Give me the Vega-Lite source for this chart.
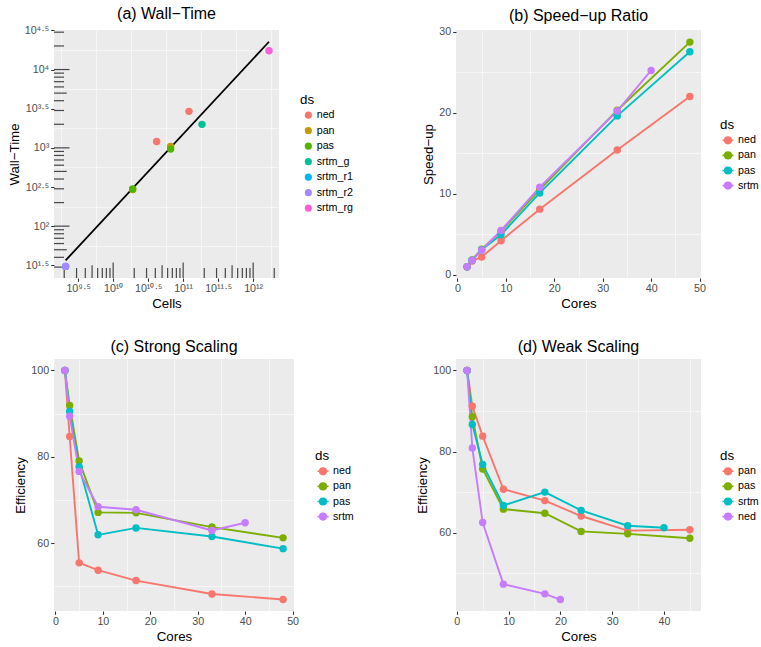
{
  "$schema": "https://vega.github.io/schema/vega-lite/v6.json",
  "background": "white",
  "padding": {"left": 7, "top": 6, "right": 0, "bottom": 0},
  "columns": 2,
  "align": "each",
  "bounds": "flush",
  "spacing": {"row": 81, "column": 162},
  "datasets": {
    "wall": [
      {"ds": "ned", "cells": 41780000000, "time": 1208},
      {"ds": "ned", "cells": 121100000000, "time": 2924},
      {"ds": "pan", "cells": 19010000000, "time": 294.4},
      {"ds": "pan", "cells": 66220000000, "time": 1042},
      {"ds": "pas", "cells": 19010000000, "time": 298.5},
      {"ds": "pas", "cells": 66220000000, "time": 963.8},
      {"ds": "srtm_g", "cells": 185800000000, "time": 1995},
      {"ds": "srtm_r1", "cells": 2094000000, "time": 30.62},
      {"ds": "srtm_r2", "cells": 2094000000, "time": 30.62},
      {"ds": "srtm_rg", "cells": 1683000000000, "time": 17418}
    ],
    "fit": [
      {"cells": 2094000000, "time": 36.56},
      {"cells": 1683000000000, "time": 22646}
    ],
    "logy": [
      {"time": 30, "kind": "short"}, {"time": 40, "kind": "short"}, {"time": 50, "kind": "mid"}, {"time": 60, "kind": "short"}, {"time": 70, "kind": "short"}, {"time": 80, "kind": "short"}, {"time": 90, "kind": "short"},
      {"time": 100, "kind": "long"}, {"time": 200, "kind": "short"}, {"time": 300, "kind": "short"}, {"time": 400, "kind": "short"}, {"time": 500, "kind": "mid"}, {"time": 600, "kind": "short"}, {"time": 700, "kind": "short"}, {"time": 800, "kind": "short"}, {"time": 900, "kind": "short"},
      {"time": 1000, "kind": "long"}, {"time": 2000, "kind": "short"}, {"time": 3000, "kind": "short"}, {"time": 4000, "kind": "short"}, {"time": 5000, "kind": "mid"}, {"time": 6000, "kind": "short"}, {"time": 7000, "kind": "short"}, {"time": 8000, "kind": "short"}, {"time": 9000, "kind": "short"},
      {"time": 10000, "kind": "long"}, {"time": 20000, "kind": "short"}, {"time": 30000, "kind": "short"}
    ],
    "logx": [
      {"cells": 2000000000, "kind": "short"}, {"cells": 3000000000, "kind": "short"}, {"cells": 4000000000, "kind": "short"}, {"cells": 5000000000, "kind": "mid"}, {"cells": 6000000000, "kind": "short"}, {"cells": 7000000000, "kind": "short"}, {"cells": 8000000000, "kind": "short"}, {"cells": 9000000000, "kind": "short"},
      {"cells": 10000000000, "kind": "long"}, {"cells": 20000000000, "kind": "short"}, {"cells": 30000000000, "kind": "short"}, {"cells": 40000000000, "kind": "short"}, {"cells": 50000000000, "kind": "mid"}, {"cells": 60000000000, "kind": "short"}, {"cells": 70000000000, "kind": "short"}, {"cells": 80000000000, "kind": "short"}, {"cells": 90000000000, "kind": "short"},
      {"cells": 100000000000, "kind": "long"}, {"cells": 200000000000, "kind": "short"}, {"cells": 300000000000, "kind": "short"}, {"cells": 400000000000, "kind": "short"}, {"cells": 500000000000, "kind": "mid"}, {"cells": 600000000000, "kind": "short"}, {"cells": 700000000000, "kind": "short"}, {"cells": 800000000000, "kind": "short"}, {"cells": 900000000000, "kind": "short"},
      {"cells": 1000000000000, "kind": "long"}, {"cells": 2000000000000, "kind": "short"}
    ],
    "speed": [
      {"ds": "ned", "cores": 2, "speedup": 1}, {"ds": "ned", "cores": 3, "speedup": 1.69}, {"ds": "ned", "cores": 5, "speedup": 2.2}, {"ds": "ned", "cores": 9, "speedup": 4.2}, {"ds": "ned", "cores": 17, "speedup": 8.1}, {"ds": "ned", "cores": 33, "speedup": 15.4}, {"ds": "ned", "cores": 48, "speedup": 22.0},
      {"ds": "pan", "cores": 2, "speedup": 1}, {"ds": "pan", "cores": 3, "speedup": 1.84}, {"ds": "pan", "cores": 5, "speedup": 3.16}, {"ds": "pan", "cores": 9, "speedup": 5.36}, {"ds": "pan", "cores": 17, "speedup": 10.5}, {"ds": "pan", "cores": 33, "speedup": 20.3}, {"ds": "pan", "cores": 48, "speedup": 28.7},
      {"ds": "pas", "cores": 2, "speedup": 1}, {"ds": "pas", "cores": 3, "speedup": 1.81}, {"ds": "pas", "cores": 5, "speedup": 3.1}, {"ds": "pas", "cores": 9, "speedup": 4.95}, {"ds": "pas", "cores": 17, "speedup": 10.1}, {"ds": "pas", "cores": 33, "speedup": 19.6}, {"ds": "pas", "cores": 48, "speedup": 27.5},
      {"ds": "srtm", "cores": 2, "speedup": 1}, {"ds": "srtm", "cores": 3, "speedup": 1.79}, {"ds": "srtm", "cores": 5, "speedup": 3.06}, {"ds": "srtm", "cores": 9, "speedup": 5.47}, {"ds": "srtm", "cores": 17, "speedup": 10.8}, {"ds": "srtm", "cores": 33, "speedup": 20.2}, {"ds": "srtm", "cores": 40, "speedup": 25.2}
    ],
    "strong": [
      {"ds": "ned", "cores": 2, "eff": 100}, {"ds": "ned", "cores": 3, "eff": 84.7}, {"ds": "ned", "cores": 5, "eff": 55.4}, {"ds": "ned", "cores": 9, "eff": 53.7}, {"ds": "ned", "cores": 17, "eff": 51.3}, {"ds": "ned", "cores": 33, "eff": 48.2}, {"ds": "ned", "cores": 48, "eff": 46.9},
      {"ds": "pan", "cores": 2, "eff": 100}, {"ds": "pan", "cores": 3, "eff": 91.9}, {"ds": "pan", "cores": 5, "eff": 79.0}, {"ds": "pan", "cores": 9, "eff": 67.1}, {"ds": "pan", "cores": 17, "eff": 67.0}, {"ds": "pan", "cores": 33, "eff": 63.7}, {"ds": "pan", "cores": 48, "eff": 61.2},
      {"ds": "pas", "cores": 2, "eff": 100}, {"ds": "pas", "cores": 3, "eff": 90.5}, {"ds": "pas", "cores": 5, "eff": 77.7}, {"ds": "pas", "cores": 9, "eff": 61.9}, {"ds": "pas", "cores": 17, "eff": 63.5}, {"ds": "pas", "cores": 33, "eff": 61.5}, {"ds": "pas", "cores": 48, "eff": 58.7},
      {"ds": "srtm", "cores": 2, "eff": 100}, {"ds": "srtm", "cores": 3, "eff": 89.4}, {"ds": "srtm", "cores": 5, "eff": 76.6}, {"ds": "srtm", "cores": 9, "eff": 68.4}, {"ds": "srtm", "cores": 17, "eff": 67.7}, {"ds": "srtm", "cores": 33, "eff": 62.9}, {"ds": "srtm", "cores": 40, "eff": 64.7}
    ],
    "weak": [
      {"ds": "pan", "cores": 2, "eff": 100}, {"ds": "pan", "cores": 3, "eff": 91.2}, {"ds": "pan", "cores": 5, "eff": 83.8}, {"ds": "pan", "cores": 9, "eff": 70.7}, {"ds": "pan", "cores": 17, "eff": 67.9}, {"ds": "pan", "cores": 24, "eff": 64.1}, {"ds": "pan", "cores": 33, "eff": 60.5}, {"ds": "pan", "cores": 45, "eff": 60.7},
      {"ds": "pas", "cores": 2, "eff": 100}, {"ds": "pas", "cores": 3, "eff": 88.6}, {"ds": "pas", "cores": 5, "eff": 75.7}, {"ds": "pas", "cores": 9, "eff": 65.8}, {"ds": "pas", "cores": 17, "eff": 64.8}, {"ds": "pas", "cores": 24, "eff": 60.3}, {"ds": "pas", "cores": 33, "eff": 59.7}, {"ds": "pas", "cores": 45, "eff": 58.6},
      {"ds": "srtm", "cores": 2, "eff": 100}, {"ds": "srtm", "cores": 3, "eff": 86.7}, {"ds": "srtm", "cores": 5, "eff": 76.8}, {"ds": "srtm", "cores": 9, "eff": 66.7}, {"ds": "srtm", "cores": 17, "eff": 70.0}, {"ds": "srtm", "cores": 24, "eff": 65.5}, {"ds": "srtm", "cores": 33, "eff": 61.7}, {"ds": "srtm", "cores": 40, "eff": 61.2},
      {"ds": "ned", "cores": 2, "eff": 100}, {"ds": "ned", "cores": 3, "eff": 80.9}, {"ds": "ned", "cores": 5, "eff": 62.5}, {"ds": "ned", "cores": 9, "eff": 47.3}, {"ds": "ned", "cores": 17, "eff": 44.9}, {"ds": "ned", "cores": 20, "eff": 43.5}
    ]
  },
  "concat": [
    {
      "width": 225,
      "height": 248,
      "title": {"text": "(a) Wall−Time", "offset": 2},
      "layer": [
        {
          "data": {"name": "logy"},
          "mark": {"type": "tick", "orient": "horizontal", "color": "black", "thickness": 1.2, "clip": true},
          "encoding": {
            "x": {"datum": 1428900000, "type": "quantitative", "scale": {"type": "log", "domain": [1428900000, 2338800000000], "nice": false, "zero": false},
              "axis": {"orient": "top", "values": [1778300000, 5623400000, 17783000000, 56234000000, 177830000000, 562340000000, 1778300000000], "labels": false, "ticks": false, "title": null, "grid": true, "gridWidth": 0.55}},
            "y": {"field": "time", "type": "quantitative", "scale": {"type": "log", "domain": [21.777, 31989], "nice": false, "zero": false},
              "axis": {"orient": "right", "values": [56.234, 177.83, 562.34, 1778.3, 5623.4, 17783], "labels": false, "ticks": false, "title": null, "grid": true, "gridWidth": 0.55}},
            "size": {"field": "kind", "type": "nominal", "scale": {"domain": ["long", "mid", "short"], "range": [31, 20, 10]}, "legend": null}
          }
        },
        {
          "data": {"name": "logx"},
          "mark": {"type": "tick", "orient": "vertical", "color": "black", "thickness": 1.2, "clip": true},
          "encoding": {
            "x": {"field": "cells", "type": "quantitative",
              "axis": {"orient": "bottom", "title": "Cells", "values": [3162277660, 10000000000, 31622776602, 100000000000, 316227766017, 1000000000000],
                "labelExpr": "datum.value < 5e9 ? '10⁹·⁵' : datum.value < 2e10 ? '10¹⁰' : datum.value < 5e10 ? '10¹⁰·⁵' : datum.value < 2e11 ? '10¹¹' : datum.value < 5e11 ? '10¹¹·⁵' : '10¹²'"}},
            "y": {"datum": 21.777, "type": "quantitative",
              "axis": {"orient": "left", "title": "Wall−Time", "values": [31.623, 100, 316.23, 1000, 3162.3, 10000, 31623],
                "labelExpr": "datum.value < 50 ? '10¹·⁵' : datum.value < 200 ? '10²' : datum.value < 500 ? '10²·⁵' : datum.value < 2000 ? '10³' : datum.value < 5000 ? '10³·⁵' : datum.value < 20000 ? '10⁴' : '10⁴·⁵'"}},
            "size": {"field": "kind", "type": "nominal", "scale": {"domain": ["long", "mid", "short"], "range": [31, 20, 10]}, "legend": null}
          }
        },
        {
          "data": {"name": "fit"},
          "mark": {"type": "line", "color": "black", "strokeWidth": 1.8},
          "encoding": {
            "x": {"field": "cells", "type": "quantitative", "axis": null},
            "y": {"field": "time", "type": "quantitative", "axis": null}
          }
        },
        {
          "data": {"name": "wall"},
          "mark": {"type": "point", "filled": true, "opacity": 1, "size": 55},
          "encoding": {
            "x": {"field": "cells", "type": "quantitative", "axis": null},
            "y": {"field": "time", "type": "quantitative", "axis": null},
            "color": {"field": "ds", "type": "nominal",
              "scale": {"domain": ["ned", "pan", "pas", "srtm_g", "srtm_r1", "srtm_r2", "srtm_rg"], "range": ["#F8766D", "#C49A00", "#53B400", "#00C094", "#00B6EB", "#A58AFF", "#FB61D7"]},
              "legend": {"title": "ds", "orient": "none", "legendX": 246, "legendY": 62.5, "symbolType": "circle", "symbolSize": 50, "symbolOffset": 3, "labelOffset": 3, "rowPadding": 3.5, "titlePadding": 4}}
          }
        }
      ],
      "resolve": {"axis": {"x": "independent", "y": "independent"}}
    },
    {
      "width": 245,
      "height": 248,
      "title": {"text": "(b) Speed−up Ratio", "offset": 2},
      "data": {"name": "speed"},
      "layer": [
        {
          "mark": {"type": "line", "strokeWidth": 1.9},
          "encoding": {
            "x": {"field": "cores", "type": "quantitative", "scale": {"domain": [-0.3, 50.3], "nice": false, "zero": false},
              "axis": {"orient": "top", "values": [5, 15, 25, 35, 45], "labels": false, "ticks": false, "title": null, "grid": true, "gridWidth": 0.55}},
            "y": {"field": "speedup", "type": "quantitative", "scale": {"domain": [-0.39, 30.19], "nice": false, "zero": false},
              "axis": {"orient": "right", "values": [5, 15, 25], "labels": false, "ticks": false, "title": null, "grid": true, "gridWidth": 0.55}},
            "stroke": {"field": "ds", "type": "nominal", "scale": {"domain": ["ned", "pan", "pas", "srtm"], "range": ["#F8766D", "#7CAE00", "#00BFC4", "#C77CFF"]},
              "legend": {"title": "ds", "orient": "none", "legendX": 264, "legendY": 88, "symbolType": "M-1,0L1,0M-0.6,0A0.6,0.6,0,1,1,0.6,0A0.6,0.6,0,1,1,-0.6,0Z", "symbolSize": 121, "symbolStrokeWidth": 1.6, "symbolOffset": 1.5, "labelOffset": 3.5, "rowPadding": 2.1, "titlePadding": 2.5}}
          }
        },
        {
          "mark": {"type": "point", "filled": true, "opacity": 1, "size": 55},
          "encoding": {
            "x": {"field": "cores", "type": "quantitative", "axis": {"orient": "bottom", "title": "Cores", "values": [0, 10, 20, 30, 40, 50]}},
            "y": {"field": "speedup", "type": "quantitative", "axis": {"orient": "left", "title": "Speed−up", "values": [0, 10, 20, 30]}},
            "fill": {"field": "ds", "type": "nominal", "scale": {"domain": ["ned", "pan", "pas", "srtm"], "range": ["#F8766D", "#7CAE00", "#00BFC4", "#C77CFF"]},
              "legend": {"title": "ds", "orient": "none", "legendX": 264, "legendY": 88, "symbolType": "M-1,0L1,0M-0.6,0A0.6,0.6,0,1,1,0.6,0A0.6,0.6,0,1,1,-0.6,0Z", "symbolSize": 121, "symbolStrokeWidth": 1.6, "symbolOffset": 1.5, "labelOffset": 3.5, "rowPadding": 2.1, "titlePadding": 2.5}}
          }
        }
      ],
      "resolve": {"axis": {"x": "independent", "y": "independent"}}
    },
    {
      "width": 240,
      "height": 252,
      "title": {"text": "(c) Strong Scaling", "offset": 4},
      "data": {"name": "strong"},
      "layer": [
        {
          "mark": {"type": "line", "strokeWidth": 1.9},
          "encoding": {
            "x": {"field": "cores", "type": "quantitative", "scale": {"domain": [-0.3, 50.3], "nice": false, "zero": false},
              "axis": {"orient": "top", "values": [5, 15, 25, 35, 45], "labels": false, "ticks": false, "title": null, "grid": true, "gridWidth": 0.55}},
            "y": {"field": "eff", "type": "quantitative", "scale": {"domain": [44.245, 102.655], "nice": false, "zero": false},
              "axis": {"orient": "right", "values": [50, 70, 90], "labels": false, "ticks": false, "title": null, "grid": true, "gridWidth": 0.55}},
            "stroke": {"field": "ds", "type": "nominal", "scale": {"domain": ["ned", "pan", "pas", "srtm"], "range": ["#F8766D", "#7CAE00", "#00BFC4", "#C77CFF"]},
              "legend": {"title": "ds", "orient": "none", "legendX": 261, "legendY": 90, "symbolType": "M-1,0L1,0M-0.6,0A0.6,0.6,0,1,1,0.6,0A0.6,0.6,0,1,1,-0.6,0Z", "symbolSize": 121, "symbolStrokeWidth": 1.6, "symbolOffset": 1.5, "labelOffset": 3.5, "rowPadding": 2.1, "titlePadding": 2.5}}
          }
        },
        {
          "mark": {"type": "point", "filled": true, "opacity": 1, "size": 55},
          "encoding": {
            "x": {"field": "cores", "type": "quantitative", "axis": {"orient": "bottom", "title": "Cores", "values": [0, 10, 20, 30, 40, 50]}},
            "y": {"field": "eff", "type": "quantitative", "axis": {"orient": "left", "title": "Efficiency", "values": [60, 80, 100]}},
            "fill": {"field": "ds", "type": "nominal", "scale": {"domain": ["ned", "pan", "pas", "srtm"], "range": ["#F8766D", "#7CAE00", "#00BFC4", "#C77CFF"]},
              "legend": {"title": "ds", "orient": "none", "legendX": 261, "legendY": 90, "symbolType": "M-1,0L1,0M-0.6,0A0.6,0.6,0,1,1,0.6,0A0.6,0.6,0,1,1,-0.6,0Z", "symbolSize": 121, "symbolStrokeWidth": 1.6, "symbolOffset": 1.5, "labelOffset": 3.5, "rowPadding": 2.1, "titlePadding": 2.5}}
          }
        }
      ],
      "resolve": {"axis": {"x": "independent", "y": "independent"}}
    },
    {
      "width": 245,
      "height": 252,
      "title": {"text": "(d) Weak Scaling", "offset": 4},
      "data": {"name": "weak"},
      "layer": [
        {
          "mark": {"type": "line", "strokeWidth": 1.9},
          "encoding": {
            "x": {"field": "cores", "type": "quantitative", "scale": {"domain": [-0.15, 47.15], "nice": false, "zero": false},
              "axis": {"orient": "top", "values": [5, 15, 25, 35, 45], "labels": false, "ticks": false, "title": null, "grid": true, "gridWidth": 0.55}},
            "y": {"field": "eff", "type": "quantitative", "scale": {"domain": [40.675, 102.825], "nice": false, "zero": false},
              "axis": {"orient": "right", "values": [50, 70, 90], "labels": false, "ticks": false, "title": null, "grid": true, "gridWidth": 0.55}},
            "stroke": {"field": "ds", "type": "nominal", "scale": {"domain": ["pan", "pas", "srtm", "ned"], "range": ["#F8766D", "#7CAE00", "#00BFC4", "#C77CFF"]},
              "legend": {"title": "ds", "orient": "none", "legendX": 264, "legendY": 90, "symbolType": "M-1,0L1,0M-0.6,0A0.6,0.6,0,1,1,0.6,0A0.6,0.6,0,1,1,-0.6,0Z", "symbolSize": 121, "symbolStrokeWidth": 1.6, "symbolOffset": 1.5, "labelOffset": 3.5, "rowPadding": 2.1, "titlePadding": 2.5}}
          }
        },
        {
          "mark": {"type": "point", "filled": true, "opacity": 1, "size": 55},
          "encoding": {
            "x": {"field": "cores", "type": "quantitative", "axis": {"orient": "bottom", "title": "Cores", "values": [0, 10, 20, 30, 40]}},
            "y": {"field": "eff", "type": "quantitative", "axis": {"orient": "left", "title": "Efficiency", "values": [60, 80, 100]}},
            "fill": {"field": "ds", "type": "nominal", "scale": {"domain": ["pan", "pas", "srtm", "ned"], "range": ["#F8766D", "#7CAE00", "#00BFC4", "#C77CFF"]},
              "legend": {"title": "ds", "orient": "none", "legendX": 264, "legendY": 90, "symbolType": "M-1,0L1,0M-0.6,0A0.6,0.6,0,1,1,0.6,0A0.6,0.6,0,1,1,-0.6,0Z", "symbolSize": 121, "symbolStrokeWidth": 1.6, "symbolOffset": 1.5, "labelOffset": 3.5, "rowPadding": 2.1, "titlePadding": 2.5}}
          }
        }
      ],
      "resolve": {"axis": {"x": "independent", "y": "independent"}}
    }
  ],
  "resolve": {
    "scale": {"x": "independent", "y": "independent", "color": "independent", "fill": "independent", "stroke": "independent", "size": "independent"},
    "legend": {"color": "independent", "fill": "independent", "stroke": "independent"},
    "axis": {"x": "independent", "y": "independent"}
  },
  "config": {
    "font": "Liberation Sans",
    "view": {"fill": "#EBEBEB", "stroke": null},
    "axis": {
      "domain": false, "tickColor": "#333333", "tickSize": 3.3, "tickWidth": 1.1,
      "labelFont": "Liberation Sans", "labelFontSize": 10.7, "labelColor": "#4D4D4D", "labelPadding": 2,
      "labelFlush": false, "labelOverlap": false, "labelBound": false,
      "titleFont": "Liberation Sans", "titleFontSize": 13.3, "titleFontWeight": "normal", "titleColor": "#000000", "titlePadding": 3,
      "gridColor": "#FFFFFF", "gridWidth": 1.1, "gridOpacity": 1
    },
    "legend": {
      "titleFont": "Liberation Sans", "titleFontSize": 13.3, "titleFontWeight": "normal", "titleColor": "#000000",
      "labelFont": "Liberation Sans", "labelFontSize": 10.7, "labelColor": "#000000", "padding": 0
    },
    "title": {"font": "Liberation Sans", "fontSize": 16, "fontWeight": "normal", "color": "#000000", "anchor": "middle", "frame": "group", "offset": 6}
  }
}
